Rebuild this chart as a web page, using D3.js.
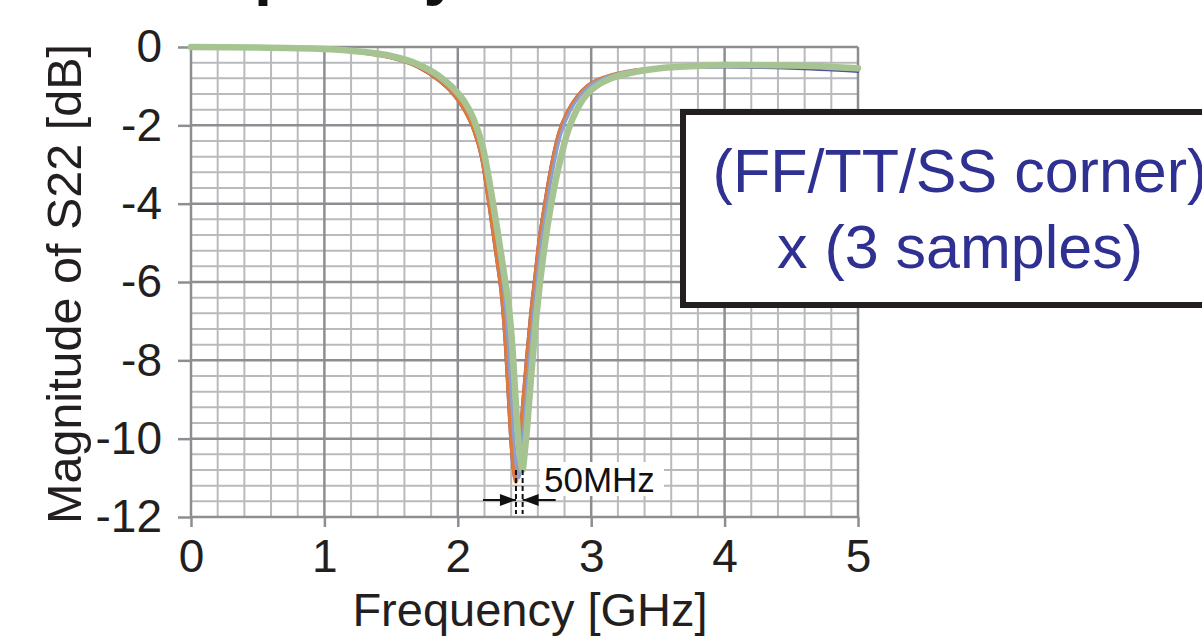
<!DOCTYPE html>
<html><head><meta charset="utf-8">
<script src="https://cdn.jsdelivr.net/npm/d3@7"></script>
<style>body{margin:0;background:#fff} svg{display:block} text{font-family:"Liberation Sans",Arial,Helvetica,sans-serif}</style>
</head><body><svg id="c" width="1202" height="636"></svg>
<script>
// ---- data ----
const xTicks = [0, 1, 2, 3, 4, 5];
const yTicks = [0, -2, -4, -6, -8, -10, -12];
const seriesNames = ["purple", "orange", "lavender", "green"];

const freqPurple = [0,0.5,1.0,1.3,1.5,1.7,1.85,1.95,2.045,2.114,2.174,2.234,2.284,2.329,2.354,2.374,2.394,2.414,2.43,2.444,2.464,2.484,2.514,2.544,2.574,2.604,2.644,2.694,2.754,2.824,2.894,2.964,3.045,3.15,3.3,3.5,3.7,4.0,4.5,5.0];
const dbPurple   = [0,-0.01,-0.065,-0.16,-0.28,-0.52,-0.85,-1.16,-1.6,-2.1,-2.8,-4.1,-5.3,-6.5,-7.6,-8.8,-10.0,-10.8,-11.05,-10.7,-10.0,-9.1,-7.9,-6.8,-5.9,-5.0,-4.1,-3.1,-2.2,-1.62,-1.25,-1.0,-0.84,-0.72,-0.62,-0.56,-0.53,-0.52,-0.55,-0.63];

const freqOrange = [0,0.5,1.0,1.3,1.5,1.7,1.85,1.95,2.05,2.12,2.18,2.24,2.29,2.335,2.36,2.38,2.40,2.42,2.436,2.45,2.47,2.49,2.52,2.55,2.58,2.61,2.65,2.70,2.76,2.83,2.90,2.97,3.05,3.15,3.3,3.5,3.7,4.0,4.5,5.0];
const dbOrange   = [0,-0.01,-0.06,-0.15,-0.27,-0.5,-0.82,-1.12,-1.6,-2.1,-2.8,-4.1,-5.3,-6.5,-7.6,-8.8,-10.0,-10.8,-11.1,-10.7,-10.0,-9.1,-7.9,-6.8,-5.9,-5.0,-4.1,-3.1,-2.2,-1.62,-1.25,-1.0,-0.84,-0.72,-0.61,-0.54,-0.5,-0.47,-0.48,-0.55];

const freqLavender = [0,0.5,1.0,1.3,1.5,1.7,1.85,1.95,2.06,2.13,2.195,2.255,2.305,2.35,2.376,2.397,2.418,2.438,2.458,2.472,2.49,2.51,2.538,2.566,2.595,2.625,2.665,2.715,2.775,2.845,2.915,2.985,3.065,3.16,3.3,3.5,3.7,4.0,4.5,5.0];
const dbLavender   = [0,-0.01,-0.06,-0.14,-0.25,-0.47,-0.77,-1.06,-1.5,-1.98,-2.7,-3.95,-5.15,-6.4,-7.5,-8.7,-9.9,-10.7,-11.0,-10.65,-9.95,-9.05,-7.9,-6.8,-5.9,-5.0,-4.1,-3.1,-2.2,-1.62,-1.25,-1.0,-0.84,-0.72,-0.61,-0.54,-0.51,-0.49,-0.5,-0.58];

const freqGreen = [0,0.5,1.0,1.3,1.5,1.7,1.85,1.95,2.05,2.12,2.19,2.25,2.30,2.35,2.385,2.41,2.43,2.45,2.47,2.486,2.50,2.52,2.55,2.58,2.61,2.65,2.70,2.76,2.83,2.90,2.97,3.05,3.15,3.3,3.5,3.7,4.0,4.5,5.0];
const dbGreen   = [0,-0.01,-0.05,-0.13,-0.23,-0.44,-0.72,-1.0,-1.4,-1.85,-2.6,-3.7,-4.75,-5.85,-6.7,-7.7,-8.8,-9.85,-10.55,-10.8,-10.4,-9.7,-8.4,-7.2,-6.2,-5.1,-4.0,-3.0,-2.1,-1.55,-1.2,-0.97,-0.8,-0.66,-0.55,-0.5,-0.46,-0.47,-0.54];

const markerFreqs = [2.436, 2.486];   // minima spread, "50MHz"
const annotationText = "50MHz";
const boxLines = ["(FF/TT/SS corner)", "x (3 samples)"];
const xTitle = "Frequency [GHz]";
const yTitle = "Magnitude of S22 [dB]";
const titleText = "Frequency";

// ---- styles ----
const styles = {
  purple:   {color: "#574fa3", width: 2.5},
  orange:   {color: "#e07a3a", width: 4},
  lavender: {color: "#8c9fd2", width: 3},
  green:    {color: "#a6c492", width: 6.5}
};
const seriesData = {
  purple:   freqPurple.map((f, i) => ({f, v: dbPurple[i]})),
  orange:   freqOrange.map((f, i) => ({f, v: dbOrange[i]})),
  lavender: freqLavender.map((f, i) => ({f, v: dbLavender[i]})),
  green:    freqGreen.map((f, i) => ({f, v: dbGreen[i]}))
};

const svg = d3.select("#c");
svg.append("rect").attr("width", 1202).attr("height", 636).attr("fill", "#fff");

const x = d3.scaleLinear().domain([0, 5]).range([191, 858]);
const y = d3.scaleLinear().domain([-12, 0]).range([517, 47]);

// partially visible title at the top edge
svg.append("text").attr("x", 131).attr("y", -7).attr("font-size", 65)
  .attr("font-weight", "bold").attr("fill", "#111").text(titleText);

const minorCol = "#b8babd", majorCol = "#8d8e91";
const xMinor = d3.range(0, 5.0001, 0.2).filter(v => Math.abs(v - Math.round(v)) > 1e-6);
const yMinor = d3.range(-12, 0.0001, 0.4).filter(v => Math.abs(v / 2 - Math.round(v / 2)) > 1e-6);
const grid = svg.append("g");
grid.selectAll(".vm").data(xMinor).join("line")
  .attr("x1", d => x(d)).attr("x2", d => x(d)).attr("y1", y(0)).attr("y2", y(-12))
  .attr("stroke", minorCol).attr("stroke-width", 2);
grid.selectAll(".hm").data(yMinor).join("line")
  .attr("x1", x(0)).attr("x2", x(5)).attr("y1", d => y(d)).attr("y2", d => y(d))
  .attr("stroke", minorCol).attr("stroke-width", 2);
grid.selectAll(".vM").data(xTicks).join("line")
  .attr("x1", d => x(d)).attr("x2", d => x(d)).attr("y1", y(0)).attr("y2", y(-12))
  .attr("stroke", majorCol).attr("stroke-width", 2.5);
grid.selectAll(".hM").data(yTicks).join("line")
  .attr("x1", x(0)).attr("x2", x(5)).attr("y1", d => y(d)).attr("y2", d => y(d))
  .attr("stroke", majorCol).attr("stroke-width", 2.5);

// axes
const yAxis = svg.append("g").attr("transform", `translate(${x(0)},0)`)
  .call(d3.axisLeft(y).tickValues(yTicks).tickSize(13).tickPadding(16).tickFormat(d => String(d)));
const xAxis = svg.append("g").attr("transform", `translate(0,${y(-12)})`)
  .call(d3.axisBottom(x).tickValues(xTicks).tickSize(10).tickPadding(12).tickFormat(d => String(d)));
[xAxis, yAxis].forEach(a => {
  a.select(".domain").remove();
  a.selectAll(".tick line").attr("stroke", majorCol).attr("stroke-width", 2.5);
  a.selectAll(".tick text").attr("font-size", 46).attr("fill", "#231f20")
    .attr("font-family", '"Liberation Sans",Arial,sans-serif');
});

// curves
const line = d3.line().x(d => x(d.f)).y(d => y(d.v)).curve(d3.curveMonotoneX);
svg.append("g").selectAll("path").data(seriesNames).join("path")
  .attr("d", n => line(seriesData[n]))
  .attr("fill", "none")
  .attr("stroke", n => styles[n].color)
  .attr("stroke-width", n => styles[n].width)
  .attr("stroke-linejoin", "round").attr("stroke-linecap", "round");

// 50MHz annotation
const ann = svg.append("g");
ann.append("rect").attr("x", 540).attr("y", 462).attr("width", 124).attr("height", 34).attr("fill", "#fff");
ann.append("text").attr("x", 544).attr("y", 492).attr("font-size", 35).attr("fill", "#111").text(annotationText);
ann.selectAll(".dl").data(markerFreqs).join("line")
  .attr("x1", d => x(d)).attr("x2", d => x(d)).attr("y1", 470).attr("y2", 514)
  .attr("stroke", "#111").attr("stroke-width", 2).attr("stroke-dasharray", "5,3");
const xa = x(markerFreqs[0]), xb = x(markerFreqs[1]), ay = 500;
ann.append("line").attr("x1", xa - 33).attr("x2", xa).attr("y1", ay).attr("y2", ay).attr("stroke", "#111").attr("stroke-width", 2);
ann.append("line").attr("x1", xb).attr("x2", xb + 33).attr("y1", ay).attr("y2", ay).attr("stroke", "#111").attr("stroke-width", 2);
ann.append("path").attr("d", `M${xa},${ay} L${xa - 16},${ay - 6} L${xa - 16},${ay + 6} Z`).attr("fill", "#111");
ann.append("path").attr("d", `M${xb},${ay} L${xb + 16},${ay - 6} L${xb + 16},${ay + 6} Z`).attr("fill", "#111");

// label box
svg.append("rect").attr("x", 683).attr("y", 112).attr("width", 560).attr("height", 193)
  .attr("fill", "#fff").attr("stroke", "#231f20").attr("stroke-width", 6);
svg.selectAll(".bl").data(boxLines).join("text")
  .attr("x", 960).attr("y", (d, i) => 192 + i * 76)
  .attr("text-anchor", "middle").attr("font-size", 61).attr("fill", "#2e3192").text(d => d);

// axis titles
svg.append("text").attr("x", 530).attr("y", 626).attr("text-anchor", "middle")
  .attr("font-size", 47).attr("fill", "#231f20").text(xTitle);
svg.append("text").attr("transform", "translate(81,284) rotate(-90)").attr("text-anchor", "middle")
  .attr("font-size", 48.5).attr("fill", "#231f20").text(yTitle);
</script></body></html>
